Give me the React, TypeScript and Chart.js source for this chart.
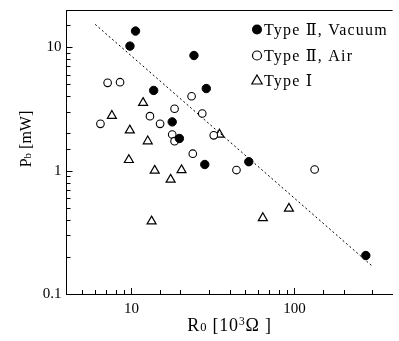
import React, { useEffect, useRef } from 'react';
import { Chart, registerables } from 'chart.js';

Chart.register(...registerables);

// Type II, Vacuum (filled circles)
const vacuumR = [10.6, 9.8, 24.2, 13.7, 28.8, 17.8, 19.7, 28.2, 52.5, 274];
const vacuumP = [13.5, 10.2, 8.56, 4.46, 4.62, 2.48, 1.82, 1.12, 1.18, 0.205];
// Type II, Air (open circles)
const airR = [7.15, 8.52, 6.46, 13.0, 15.0, 18.4, 23.4, 27.2, 17.8, 18.4, 23.8, 32.0, 44.1, 133];
const airP = [5.14, 5.2, 2.39, 2.76, 2.39, 3.17, 4.0, 2.9, 1.96, 1.73, 1.37, 1.93, 1.01, 1.02];
// Type I (open triangles)
const type1R = [11.8, 7.59, 9.78, 12.6, 9.65, 13.9, 20.3, 17.4, 13.3, 34.7, 64.0, 92.5];
const type1P = [3.54, 2.78, 2.12, 1.73, 1.22, 1.0, 1.01, 0.845, 0.388, 1.96, 0.413, 0.492];
// dotted guide line
const fitR = [6.0, 302];
const fitP = [15.3, 0.167];

const xTickLabels = [10, 100];
const yTickLabels = [0.1, 1, 10];
const legendLabels = ['Type \u2161, Vacuum', 'Type \u2161, Air', 'Type \u2160'];

const FONT = '"Liberation Serif", "Times New Roman", "DejaVu Serif", "Noto Sans CJK JP", serif';

const near = (a: number, b: number) => Math.abs(Math.log10(a) - Math.log10(b)) < 1e-6;

const pts = (xs: number[], ys: number[]) => xs.map((x, i) => ({ x, y: ys[i] }));

const decorPlugin = {
  id: 'decor',
  afterDraw(chart: any) {
    const { ctx, chartArea: a, scales } = chart;
    const xs = scales.x;
    const ys = scales.y;
    ctx.save();
    ctx.strokeStyle = '#000';
    ctx.fillStyle = '#000';
    ctx.lineWidth = 1;
    // top frame line
    ctx.beginPath();
    ctx.moveTo(a.left, Math.round(a.top) + 0.5);
    ctx.lineTo(a.right, Math.round(a.top) + 0.5);
    ctx.stroke();
    // inward tick marks on x
    xs.ticks.forEach((t: any) => {
      const px = xs.getPixelForValue(t.value);
      if (px <= a.left + 1 || px >= a.right - 1) return;
      const major = xTickLabels.some((v) => near(v, t.value));
      const len = major ? 6 : 4;
      const x = Math.round(px) + 0.5;
      ctx.beginPath();
      ctx.moveTo(x, a.bottom);
      ctx.lineTo(x, a.bottom - len);
      ctx.stroke();
    });
    // inward tick marks on y
    ys.ticks.forEach((t: any) => {
      const py = ys.getPixelForValue(t.value);
      if (py <= a.top + 1 || py >= a.bottom - 1) return;
      const major = yTickLabels.some((v) => near(v, t.value));
      const len = major ? 6 : 4;
      const y = Math.round(py) + 0.5;
      ctx.beginPath();
      ctx.moveTo(a.left, y);
      ctx.lineTo(a.left + len, y);
      ctx.stroke();
    });

    // x title: R0 [10^3 Ω ]
    const big = `18px ${FONT}`;
    const small = `12.5px ${FONT}`;
    const sup = `11.5px ${FONT}`;
    const xParts = [
      { t: 'R', f: big, dy: 0 },
      { t: '0', f: small, dy: 0 },
      { t: ' [10', f: big, dy: 0 },
      { t: '3', f: sup, dy: -6.5 },
      { t: '\u03A9 ]', f: big, dy: 0 },
    ];
    (ctx as any).letterSpacing = '0.8px';
    let total = 0;
    xParts.forEach((p) => { ctx.font = p.f; total += ctx.measureText(p.t).width; });
    let cx = (a.left + a.right) / 2 - total / 2;
    const baseY = 331;
    ctx.textBaseline = 'alphabetic';
    ctx.textAlign = 'left';
    xParts.forEach((p) => {
      ctx.font = p.f;
      ctx.fillText(p.t, cx, baseY + p.dy);
      cx += ctx.measureText(p.t).width;
    });

    // y title: Pb [mW]
    (ctx as any).letterSpacing = '0px';
    const yParts = [
      { t: 'P', f: `16px ${FONT}`, dy: 0 },
      { t: 'b', f: `11px ${FONT}`, dy: 0 },
      { t: ' [mW]', f: `16px ${FONT}`, dy: 0 },
    ];
    let ytot = 0;
    yParts.forEach((p) => { ctx.font = p.f; ytot += ctx.measureText(p.t).width; });
    ctx.save();
    ctx.translate(31, 139);
    ctx.rotate(-Math.PI / 2);
    let yx = -ytot / 2;
    yParts.forEach((p) => {
      ctx.font = p.f;
      ctx.fillText(p.t, yx, p.dy);
      yx += ctx.measureText(p.t).width;
    });
    ctx.restore();

    // legend
    const lx = 257;
    const lys = [29.5, 55.5, 81];
    ctx.font = `16px ${FONT}`;
    (ctx as any).letterSpacing = '1.2px';
    lys.forEach((ly, i) => {
      ctx.beginPath();
      if (i === 0) {
        ctx.arc(lx, ly, 5, 0, Math.PI * 2);
        ctx.fill();
      } else if (i === 1) {
        ctx.arc(lx, ly, 4.5, 0, Math.PI * 2);
        ctx.lineWidth = 1.2;
        ctx.stroke();
      } else {
        const r = 6;
        ctx.moveTo(lx, ly - r);
        ctx.lineTo(lx + r * 0.866, ly + r * 0.5);
        ctx.lineTo(lx - r * 0.866, ly + r * 0.5);
        ctx.closePath();
        ctx.lineWidth = 1.2;
        ctx.stroke();
      }
      ctx.fillText(legendLabels[i], 264, ly + 5);
    });
    ctx.restore();
  },
};

export default function App() {
  const ref = useRef<HTMLCanvasElement | null>(null);
  useEffect(() => {
    if (!ref.current) return;
    const chart = new Chart(ref.current, {
      type: 'scatter',
      data: {
        datasets: [
          {
            label: legendLabels[0],
            data: pts(vacuumR, vacuumP),
            pointStyle: 'circle',
            pointRadius: 4.2,
            backgroundColor: '#000',
            borderColor: '#000',
            borderWidth: 1,
            order: 1,
          },
          {
            label: legendLabels[1],
            data: pts(airR, airP),
            pointStyle: 'circle',
            pointRadius: 3.8,
            backgroundColor: '#fff',
            borderColor: '#000',
            borderWidth: 1.1,
            order: 2,
          },
          {
            label: legendLabels[2],
            data: pts(type1R, type1P),
            pointStyle: 'triangle',
            pointRadius: 5.2,
            backgroundColor: 'rgba(255,255,255,0)',
            borderColor: '#000',
            borderWidth: 1.2,
            order: 3,
          },
          {
            label: 'fit',
            data: pts(fitR, fitP),
            showLine: true,
            pointRadius: 0,
            borderColor: '#000',
            borderWidth: 1,
            borderDash: [2, 2.5],
            order: 4,
          },
        ],
      },
      options: {
        responsive: false,
        animation: false,
        devicePixelRatio: 1,
        events: [],
        layout: { padding: { top: 10, left: 0, right: 0, bottom: 0 } },
        plugins: { legend: { display: false }, tooltip: { enabled: false } },
        scales: {
          x: {
            type: 'logarithmic',
            min: 4,
            max: 400,
            grid: { display: false, drawTicks: false },
            border: { display: true, color: '#000', width: 1 },
            ticks: {
              autoSkip: false,
              maxRotation: 0,
              padding: 6,
              color: '#000',
              font: { family: FONT, size: 15 },
              callback: (v: any) => {
                const m = xTickLabels.find((t) => near(t, Number(v)));
                return m !== undefined ? String(m) : '';
              },
            },
            afterFit: (s: any) => {
              s.height = 47;
              s.paddingLeft = 0;
              s.paddingRight = 0;
              s.paddingTop = 0;
              s.paddingBottom = 0;
            },
          },
          y: {
            type: 'logarithmic',
            min: 0.1,
            max: 20,
            grid: { display: false, drawTicks: false },
            border: { display: true, color: '#000', width: 1 },
            ticks: {
              autoSkip: false,
              padding: 5,
              color: '#000',
              font: { family: FONT, size: 15 },
              callback: (v: any) => {
                const m = yTickLabels.find((t) => near(t, Number(v)));
                return m !== undefined ? String(m) : '';
              },
            },
            afterFit: (s: any) => {
              s.width = 66.5;
              s.paddingLeft = 0;
              s.paddingRight = 0;
              s.paddingTop = 0;
              s.paddingBottom = 0;
            },
          },
        },
      },
      plugins: [decorPlugin],
    });
    return () => chart.destroy();
  }, []);
  return (
    <div style={{ position: 'absolute', left: 0, top: 0, width: 399, height: 341, background: '#fff' }}>
      <canvas ref={ref} width={399} height={341} style={{ width: 399, height: 341, display: 'block' }} />
    </div>
  );
}
